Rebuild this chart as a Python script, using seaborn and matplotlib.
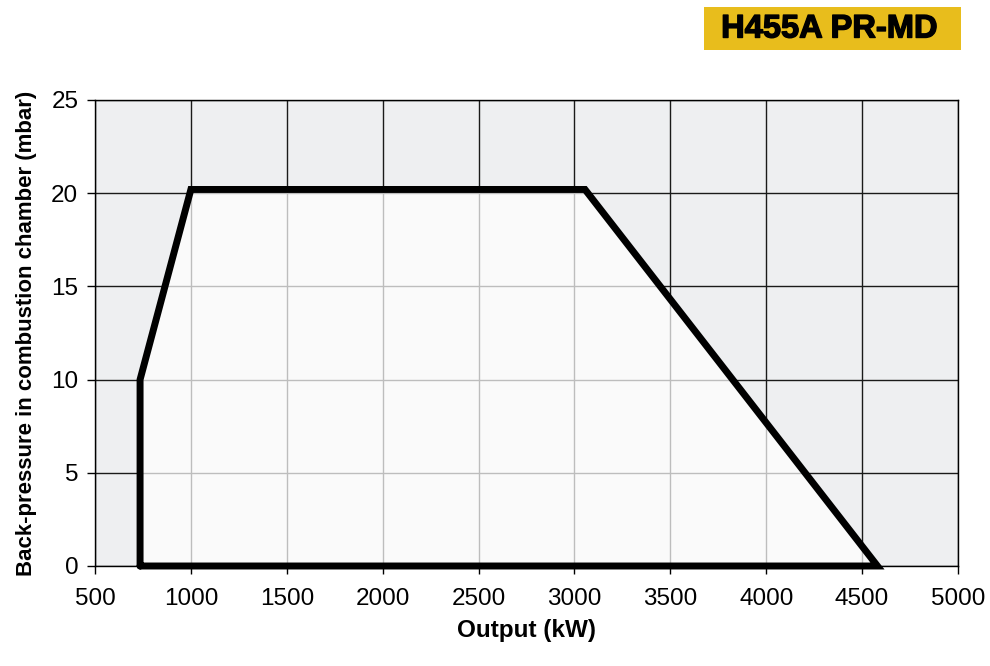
import matplotlib
matplotlib.use("Agg")
import matplotlib.pyplot as plt
import matplotlib.patheffects as pe
import seaborn as sns
import pandas as pd
from matplotlib.patches import Polygon, Rectangle

# ---- data ----
output_kw = [735, 735, 1000, 3055, 4580, 735]
pressure_mbar = [0, 10, 20.2, 20.2, 0, 0]
x_ticks = [500, 1000, 1500, 2000, 2500, 3000, 3500, 4000, 4500, 5000]
y_ticks = [0, 5, 10, 15, 20, 25]
title_text = "H455A PR-MD"
x_label = "Output (kW)"
y_label = "Back-pressure in combustion chamber (mbar)"

sns.set_theme(style="ticks")
plt.rcParams['font.family'] = ['Liberation Sans', 'DejaVu Sans']

fig = plt.figure(figsize=(9.9, 6.66), dpi=100)
ax = fig.add_axes([95/990, 1-566/666, (958-95)/990, (566-100)/666])

ax.set_facecolor("#eeeff1")
ax.set_xlim(500, 5000)
ax.set_ylim(0, 25)
ax.set_xticks(x_ticks)
ax.set_yticks(y_ticks)

# dark grid
for xv in x_ticks:
    ax.axvline(xv, color="#1a1a1a", lw=1.0, zorder=1)
for yv in y_ticks:
    ax.axhline(yv, color="#1a1a1a", lw=1.0, zorder=1)

# inner fill
verts = list(zip(output_kw, pressure_mbar))
poly = Polygon(verts, closed=True, facecolor="#fafafa", edgecolor="none", zorder=2)
ax.add_patch(poly)

# light grid inside polygon
for xv in x_ticks:
    l = ax.axvline(xv, color="#bdbdbd", lw=1.0, zorder=3)
    l.set_clip_path(poly)
for yv in y_ticks:
    l = ax.axhline(yv, color="#bdbdbd", lw=1.0, zorder=3)
    l.set_clip_path(poly)

df = pd.DataFrame({"x": output_kw, "y": pressure_mbar})
sns.lineplot(data=df, x="x", y="y", sort=False, estimator=None, color="black",
             lw=5, ax=ax, zorder=5, solid_joinstyle="miter")
for line in ax.get_lines()[-1:]:
    line.set_clip_on(False)

for s in ax.spines.values():
    s.set_color("black")
    s.set_linewidth(1.0)
    s.set_zorder(6)

ax.tick_params(axis="both", direction="out", length=6, width=1.0, color="black",
               labelsize=17.5, labelcolor="black")
ax.tick_params(axis="x", pad=10)
ax.tick_params(axis="y", pad=6)
ax.set_xlabel(x_label, fontsize=17.5, fontweight="bold", color="black", labelpad=6)
ax.set_ylabel(y_label, fontsize=16, fontweight="bold", color="black", labelpad=10.5)

fig.patches.append(Rectangle((704/990, 1-50/666), (961-704)/990, 43/666,
                   transform=fig.transFigure, facecolor="#e8bd1c", edgecolor="none"))
fig.text(829/990, 1-29/666, title_text, ha="center", va="center",
         fontsize=23.5, fontweight="bold", color="black",
         path_effects=[pe.withStroke(linewidth=1.0, foreground="black")])

fig.savefig("out.png", dpi=100, facecolor="white")
